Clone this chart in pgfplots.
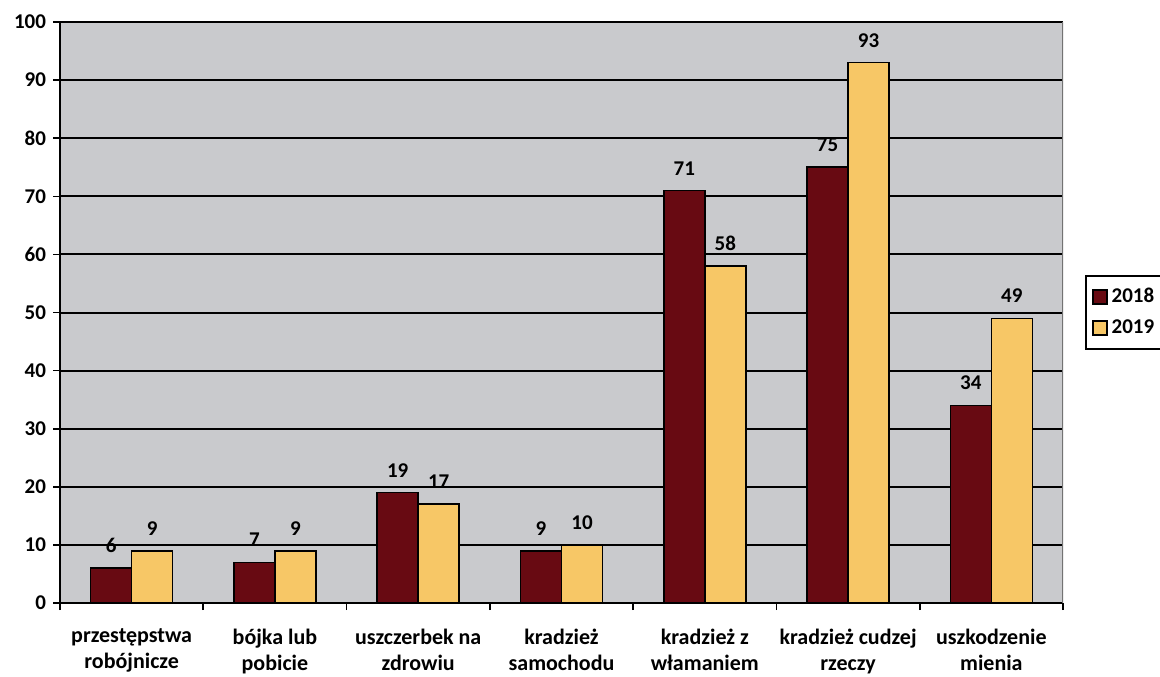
\documentclass[border=0pt]{standalone}
\usepackage{fontspec}
\setmainfont{Carlito}
\usepackage{pgfplots}
\pgfplotsset{compat=1.18}
\usetikzlibrary{calc}
\definecolor{cA}{HTML}{680A12}
\definecolor{cB}{HTML}{F7C766}
\definecolor{bg}{HTML}{C9CACD}
\begin{document}
\begin{tikzpicture}
\begin{axis}[
  name=ax,
  scale only axis,
  width=501.5pt, height=290.5pt,
  ybar=0pt, bar width=20.5pt,
  xmin=-0.5, xmax=6.5, ymin=0, ymax=100,
  ytick={0,10,...,100},
  xtick={0,...,6},
  xticklabels={{przestępstwa\\robójnicze},{bójka lub\\pobicie},{uszczerbek na\\zdrowiu},{kradzież\\samochodu},{kradzież z\\włamaniem},{kradzież cudzej\\rzeczy},{uszkodzenie\\mienia}},
  minor xtick={-0.5,0.5,...,6.5},
  major x tick style={draw=none},
  tick align=outside,
  major tick length=3.5pt, minor tick length=3.5pt,
  tick style={black, line width=0.8pt},
  axis lines*=left,
  axis line style={black, line width=1pt},
  ymajorgrids, grid style={black, line width=1pt},
  axis background/.style={fill=bg},
  /pgf/number format/assume math mode=true,
  ticklabel style={font=\fontsize{10.5}{13}\selectfont\bfseries},
  xticklabel style={align=center, yshift=-6pt, font=\fontsize{11}{13}\selectfont\bfseries},
  nodes near coords,
  nodes near coords style={font=\fontsize{10.5}{13}\selectfont\bfseries, yshift=4pt},
  legend style={at={(1.022,0.5)}, anchor=west, draw=black, line width=1pt,
    font=\fontsize{10.5}{13}\selectfont\bfseries, row sep=3pt, inner xsep=3pt, inner ysep=4pt},
  legend cell align=left,
]
\addplot[fill=cA, draw=black, line width=0.8pt,
  legend image code/.code={\draw[fill=cA,draw=black,line width=0.8pt] (0pt,-3.5pt) rectangle (7pt,3.5pt);}]
  coordinates {(0,6) (1,7) (2,19) (3,9) (4,71) (5,75) (6,34)};
\addplot[fill=cB, draw=black, line width=0.8pt,
  legend image code/.code={\draw[fill=cB,draw=black,line width=0.8pt] (0pt,-3.5pt) rectangle (7pt,3.5pt);}]
  coordinates {(0,9) (1,9) (2,17) (3,10) (4,58) (5,93) (6,49)};
\legend{2018,2019}
\draw[black!55, line width=0.8pt] (rel axis cs:1,0) -- (rel axis cs:1,1);
\end{axis}
\pgfresetboundingbox
\path[use as bounding box] ($(ax.south west)+(-30pt,-36.5pt)$) rectangle ($(ax.north east)+(48.5pt,11pt)$);
\end{tikzpicture}
\end{document}
